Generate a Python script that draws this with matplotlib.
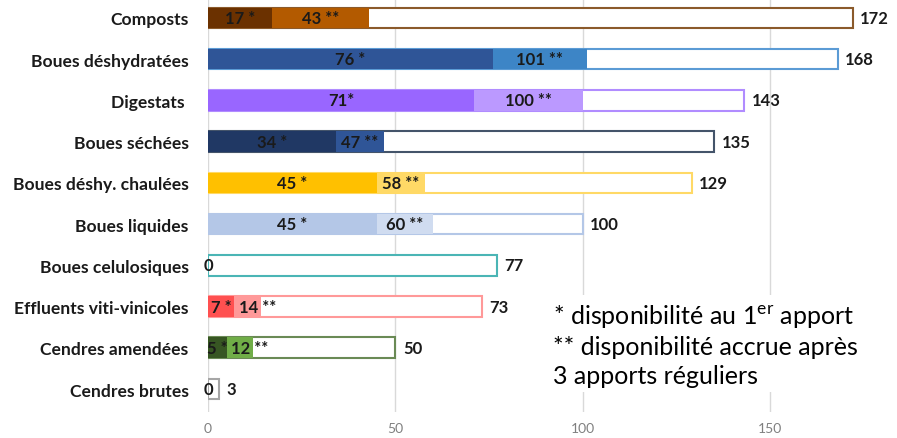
import matplotlib
matplotlib.use("Agg")
import matplotlib.pyplot as plt

# Disponibilité par produit (premier apport, après 3 apports, total)
produits = ["Composts", "Boues déshydratées", "Digestats ", "Boues séchées",
            "Boues déshy. chaulées", "Boues liquides", "Boues celulosiques",
            "Effluents viti-vinicoles", "Cendres amendées", "Cendres brutes"]
dispo_1er = [17, 76, 71, 34, 45, 45, 0, 7, 5, 0]
dispo_accrue = [43, 101, 100, 47, 58, 60, None, 14, 12, None]
total = [172, 168, 143, 135, 129, 100, 77, 73, 50, 3]
suffixe_1er = [" *", " *", "*", " *", " *", " *", "", " *", " *", ""]
suffixe_accrue = [" **", " **", " **", " **", " **", " **", "", " **", " **", ""]

couleur_1er = ["#6B3100", "#2F5597", "#9966FF", "#203864", "#FFC000",
               "#B4C7E7", "#4BB5B5", "#FF5050", "#375623", "#A6A6A6"]
couleur_accrue = ["#B35A00", "#3D85C6", "#BB99FF", "#2F5597", "#FFD966",
                  "#D0DCF0", "#4BB5B5", "#FF9999", "#70AD47", "#A6A6A6"]
couleur_bord = ["#8B5A2B", "#5B9BD5", "#B18CFF", "#44546A", "#FFD966",
                "#B4C7E7", "#4BB5B5", "#FF9999", "#6A8A55", "#A6A6A6"]

plt.rcParams["font.family"] = ["Lato", "DejaVu Sans"]

fig = plt.figure(figsize=(8.97, 4.39), dpi=100)
ax = fig.add_axes([0.232, 0.059, 0.752, 0.941])

y = list(range(len(produits)))
h = 0.5
fs = 12

# total : barre blanche bordée
ax.barh(y, total, height=h, color="white", edgecolor=couleur_bord,
        linewidth=1.5, zorder=2)
for i in y:
    if dispo_accrue[i] is not None:
        ax.barh(i, dispo_accrue[i], height=h, color=couleur_accrue[i], zorder=3)
    ax.barh(i, dispo_1er[i], height=h, color=couleur_1er[i], zorder=4)

    # étiquettes
    ax.text(dispo_1er[i] / 2, i, f"{dispo_1er[i]}{suffixe_1er[i]}", ha="center",
            va="center", fontsize=fs, fontweight="bold", color="#1a1a1a", zorder=5)
    if dispo_accrue[i] is not None:
        if dispo_accrue[i] - dispo_1er[i] < 10:
            # segment trop étroit : étiquette calée à gauche
            xm, ha = dispo_1er[i] + 1.2, "left"
        else:
            xm, ha = (dispo_1er[i] + dispo_accrue[i]) / 2, "center"
        ax.text(xm, i, f"{dispo_accrue[i]}{suffixe_accrue[i]}", ha=ha,
                va="center", fontsize=fs, fontweight="bold", color="#1a1a1a", zorder=5)
    ax.text(total[i] + 2, i, f"{total[i]}", ha="left", va="center",
            fontsize=fs, fontweight="bold", color="#1a1a1a", zorder=5)

ax.set_yticks(y)
ax.set_yticklabels(produits, fontsize=12.6, fontweight="bold", color="#1a1a1a")
ax.set_ylim(9.56, -0.46)
ax.set_xlim(0, 180)
ax.set_xticks([0, 50, 100, 150])
ax.tick_params(axis="x", length=0, pad=7, labelsize=10, labelcolor="#808080")
ax.tick_params(axis="y", length=0, pad=14)
ax.grid(axis="x", color="#D9D9D9", linewidth=1, zorder=0)
ax.set_axisbelow(True)
for s in ax.spines.values():
    s.set_visible(False)

ax.text(92, 7.92,
        "* disponibilité au 1$^{\\mathregular{er}}$ apport\n"
        "** disponibilité accrue après\n3 apports réguliers",
        ha="left", va="center", fontsize=18, linespacing=1.3, color="black",
        bbox=dict(facecolor="white", edgecolor="none", pad=4), zorder=6)

fig.savefig("out.png", dpi=100)
